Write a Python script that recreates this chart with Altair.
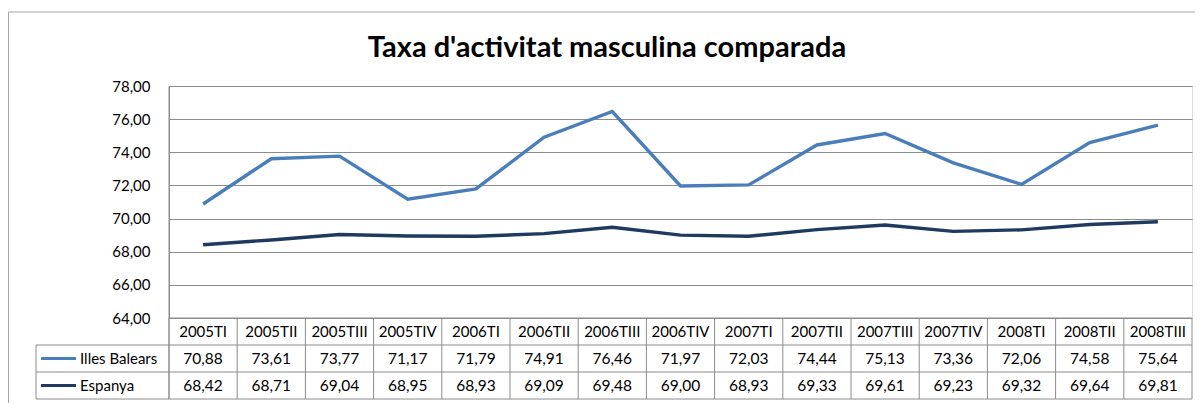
import altair as alt
import pandas as pd

periods = ["2005TI", "2005TII", "2005TIII", "2005TIV", "2006TI", "2006TII", "2006TIII",
           "2006TIV", "2007TI", "2007TII", "2007TIII", "2007TIV", "2008TI", "2008TII", "2008TIII"]
illes_balears = [70.88, 73.61, 73.77, 71.17, 71.79, 74.91, 76.46, 71.97, 72.03, 74.44,
                 75.13, 73.36, 72.06, 74.58, 75.64]
espanya = [68.42, 68.71, 69.04, 68.95, 68.93, 69.09, 69.48, 69.00, 68.93, 69.33,
           69.61, 69.23, 69.32, 69.64, 69.81]
series_names = ["Illes Balears", "Espanya"]
series_colors = ["#4a7ebb", "#1f3a5f"]
y_ticks = [64, 66, 68, 70, 72, 74, 76, 78]
title_text = "Taxa d'activitat masculina comparada"

FONT = "Lato"
W, H = 1023, 232
GRID = "#8c8c8c"

rows = []
for name, vals in zip(series_names, [illes_balears, espanya]):
    for p, v in zip(periods, vals):
        rows.append({"period": p, "series": name, "value": v,
                     "label": f"{v:.2f}".replace(".", ",")})
df = pd.DataFrame(rows)
per_df = pd.DataFrame({"period": periods})
one = alt.Data(values=[{}])

xscale = alt.Scale(domain=periods, paddingInner=0, paddingOuter=0)
color_scale = alt.Scale(domain=series_names, range=series_colors)

x_center = alt.X("period:N", scale=xscale, axis=None, bandPosition=0.5, sort=periods)
x_start = alt.X("period:N", scale=xscale, axis=None, bandPosition=0, sort=periods)

lines = alt.Chart(df).mark_line(strokeWidth=3.4).encode(
    x=x_center,
    y=alt.Y("value:Q", scale=alt.Scale(domain=[64, 78], nice=False, zero=False),
            axis=alt.Axis(values=y_ticks, title=None, ticks=False, labelPadding=19,
                          labelExpr="replace(format(datum.value, '.2f'), '.', ',')",
                          labelFont=FONT, labelFontSize=15, labelColor="#000000",
                          domainColor=GRID, gridColor=GRID, gridWidth=1)),
    color=alt.Color("series:N", scale=color_scale, legend=None),
    detail="series:N",
)

# table layout (pixel offsets relative to plot area)
HDR_Y, R1_Y, R2_Y = 245.5, 272.5, 299.5
L1, L2, L3 = 259, 286, 313
LEFT = -133

header = alt.Chart(per_df).mark_text(font=FONT, fontSize=15, color="#000000",
                                     baseline="middle").encode(
    x=x_center, y=alt.value(HDR_Y), text="period:N")

vals_layers = []
for name, yy in zip(series_names, [R1_Y, R2_Y]):
    vals_layers.append(
        alt.Chart(df).transform_filter(alt.datum.series == name)
        .mark_text(font=FONT, fontSize=15.5, color="#000000", baseline="middle")
        .encode(x=x_center, y=alt.value(yy), text="label:N")
    )

vsep = alt.Chart(per_df).mark_rule(color=GRID, strokeWidth=1).encode(
    x=x_start, y=alt.value(H), y2=alt.value(L3))

deco = []
# right edge of table
deco.append(alt.Chart(one).mark_rule(color=GRID).encode(
    x=alt.value(W), y=alt.value(H), y2=alt.value(L3)))
# left edge continuation
deco.append(alt.Chart(one).mark_rule(color=GRID).encode(
    x=alt.value(0), y=alt.value(0), y2=alt.value(L3)))
# legend column left edge
deco.append(alt.Chart(one).mark_rule(color=GRID).encode(
    x=alt.value(LEFT), y=alt.value(L1), y2=alt.value(L3)))
# horizontal table lines
for yy in [L1, L2, L3]:
    deco.append(alt.Chart(one).mark_rule(color=GRID).encode(
        x=alt.value(LEFT), x2=alt.value(W), y=alt.value(yy)))
# header top across data columns
deco.append(alt.Chart(one).mark_rule(color=GRID).encode(
    x=alt.value(0), x2=alt.value(W), y=alt.value(H)))
# outer chart border
deco.append(alt.Chart(one).mark_rule(color="#a6a6a6").encode(
    x=alt.value(-160.5), y=alt.value(-74), y2=alt.value(330)))
deco.append(alt.Chart(one).mark_rule(color="#a6a6a6").encode(
    x=alt.value(-160.5), x2=alt.value(1030), y=alt.value(-74)))

# legend keys in table
for name, col, yy in zip(series_names, series_colors, [R1_Y, R2_Y]):
    deco.append(alt.Chart(one).mark_rule(color=col, strokeWidth=3).encode(
        x=alt.value(-128), x2=alt.value(-93), y=alt.value(yy)))
    deco.append(alt.Chart(one).mark_text(font=FONT, fontSize=15, color="#000000",
                                         align="left", baseline="middle", text=name).encode(
        x=alt.value(-89), y=alt.value(yy)))

title = alt.Chart(one).mark_text(font=FONT, fontSize=29, fontWeight="bold", color="#000000",
                                 align="center", baseline="alphabetic", text=title_text).encode(
    x=alt.value(607 - 169), y=alt.value(57 - 86))

chart = alt.layer(lines, header, *vals_layers, vsep, *deco, title).properties(
    width=W, height=H,
    autosize=alt.AutoSizeParams(type="none"),
    padding={"left": 161, "top": 78, "right": 3, "bottom": 85},
).configure_view(stroke="transparent").configure(background="white")

chart.save("out.html", embed_options={"renderer": "svg", "actions": False})
